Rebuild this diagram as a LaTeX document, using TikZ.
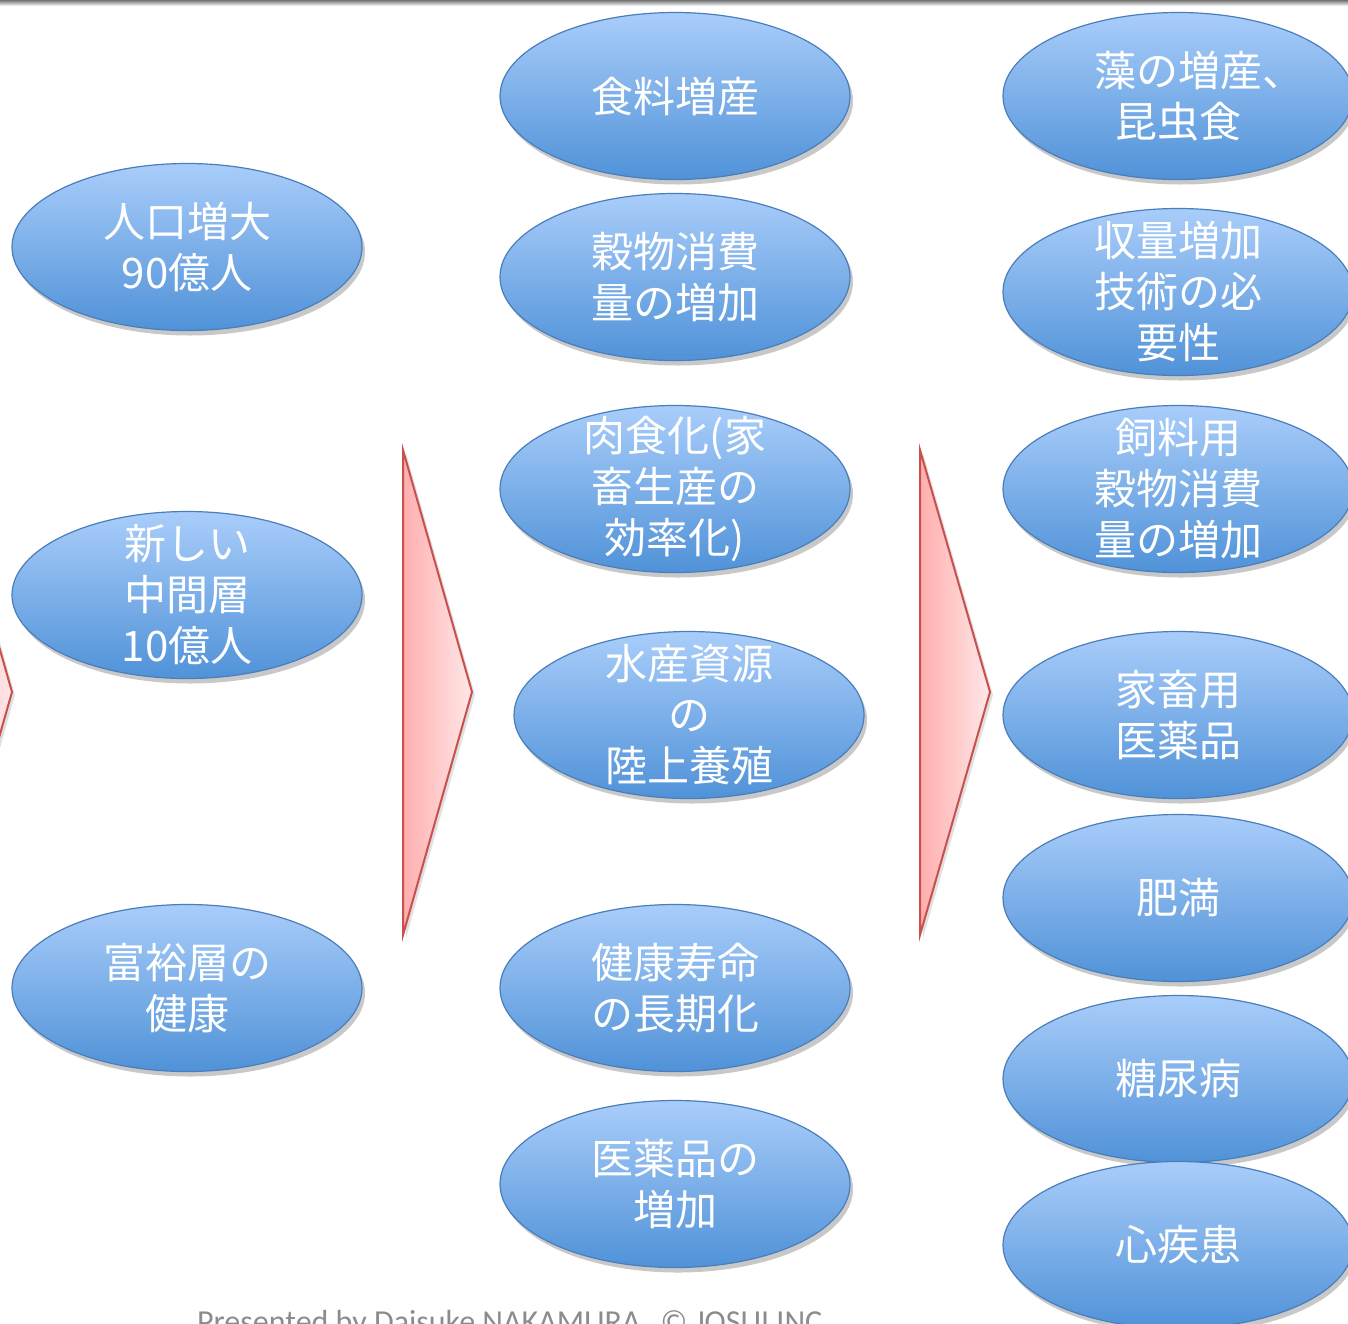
\documentclass[tikz,border=0pt]{standalone}
\usepackage{fontspec}
\newfontfamily\jp{Noto Sans CJK JP}
\newfontfamily\footfont{Carlito}
\usetikzlibrary{shapes.geometric,shadows}
\definecolor{eltop}{HTML}{A9CDFA}
\definecolor{elbot}{HTML}{5092D8}
\definecolor{eldraw}{HTML}{4A7EBB}
\definecolor{artl}{HTML}{FFAEAE}
\definecolor{artr}{HTML}{FFE8E8}
\definecolor{ardraw}{HTML}{C9504D}
\definecolor{foottext}{HTML}{8C8C8C}
\tikzset{
  bub/.style={ellipse, draw=eldraw, line width=1.2pt, top color=eltop, bottom color=elbot,
    minimum width=350pt, minimum height=167pt, inner sep=0pt,
    drop shadow={shadow xshift=3pt, shadow yshift=-5pt, opacity=0.3, fill=black!70},
    label={[bubtext]center:{#1}}},
  bubtext/.style={align=center, text=white, inner sep=0pt,
    font=\jp\fontsize{42}{51}\selectfont},
  chev/.style={draw=ardraw, line width=2pt, left color=artl, right color=artr, line join=miter,
    drop shadow={shadow xshift=3pt, shadow yshift=-3pt, opacity=0.2, fill=black!60}}
}
\begin{document}
\begin{tikzpicture}[x=1pt,y=-1pt]
\useasboundingbox (0,0) rectangle (1348,1323);
\clip (0,0) rectangle (1348,1323);
\fill[white] (0,0) rectangle (1348,1323);
\fill[top color=black!55, bottom color=white] (0,0) rectangle (1348,6);
% chevrons
\path[chev] (-57,450) -- (12,692) -- (-57,935) -- cycle;
\path[chev] (403,450) -- (472,692) -- (403,935) -- cycle;
\path[chev] (920,450) -- (990,692) -- (920,935) -- cycle;
% left column
\node[bub={人口増大\\90億人}] (l1) at (187,247) {};
\node[bub={新しい\\中間層\\10億人}] (l2) at (187,595) {};
\node[bub={富裕層の\\健康}] (l3) at (187,988) {};
% middle column
\node[bub={食料増産}] (m1) at (675,96) {};
\node[bub={穀物消費\\量の増加}] (m2) at (675,277) {};
\node[bub={肉食化(家\\畜生産の\\効率化)}] (m3) at (675,489) {};
\node[bub={水産資源\\の\\陸上養殖}] (m4) at (689,715) {};
\node[bub={健康寿命\\の長期化}] (m5) at (675,988) {};
\node[bub={医薬品の\\増加}] (m6) at (675,1184) {};
% right column
\node[bub={\makebox[4em][l]{藻の増産、}\\昆虫食}] (r1) at (1178,96) {};
\node[bub={収量増加\\技術の必\\要性}] (r2) at (1178,292) {};
\node[bub={飼料用\\穀物消費\\量の増加}] (r3) at (1178,489) {};
\node[bub={家畜用\\医薬品}] (r4) at (1178,715) {};
\node[bub={肥満}] (r5) at (1178,898) {};
\node[bub={糖尿病}] (r6) at (1178,1079) {};
\node[bub={心疾患}] (r7) at (1178,1245) {};
% footer
\node[anchor=base west, inner sep=0pt, text=foottext, font=\footfont\fontsize{32}{36}\selectfont] (ft) at (197,1332) {Presented by Daisuke NAKAMURA\hspace{20pt}© JOSUI INC};
\end{tikzpicture}
\end{document}
